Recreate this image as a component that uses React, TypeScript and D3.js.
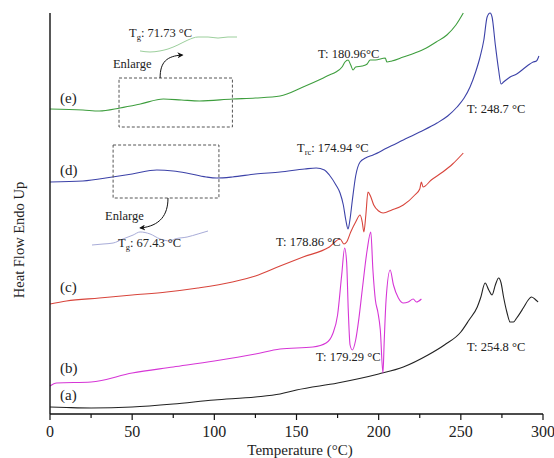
import React from "react";
import * as d3 from "d3";

// temperature (°C) and heat flow (a.u.)
const tA = [0, 10, 25, 50, 75, 100, 125, 140, 150, 175, 200, 215, 230, 240, 250, 255, 260, 262, 264.8, 267, 269, 271, 273, 274.5, 276, 278, 280, 282, 284, 288, 291, 293, 295, 297];
const vA = [0.7, 0.65, 0.6, 0.7, 1.0, 1.4, 1.7, 2.0, 2.4, 3.1, 4.0, 4.7, 5.9, 6.9, 8.2, 9.4, 10.7, 11.6, 13.1, 12.4, 11.9, 12.9, 13.6, 13.1, 11.7, 10.2, 9.2, 9.2, 9.6, 10.6, 11.4, 11.7, 11.5, 11.2];

const tB = [0, 4, 25, 50, 75, 100, 125, 140, 160, 168, 172, 175, 177.5, 179.3, 180.5, 181.5, 182.6, 184, 186, 188, 190, 193, 195.2, 196.5, 198, 199.5, 201, 202.6, 203.4, 204.5, 207, 209, 212, 215, 218, 221, 223, 226];
const vB = [2.8, 3.1, 3.2, 4.1, 4.7, 5.3, 6.0, 6.5, 6.7, 7.1, 8.0, 9.9, 13.9, 16.6, 15.2, 10.4, 6.9, 6.4, 7.4, 9.6, 12.4, 16.4, 18.2, 14.4, 11.4, 10.2, 8.4, 4.1, 7.4, 11.4, 14.4, 12.9, 11.6, 11.1, 11.2, 11.5, 11.2, 11.5];

const tC = [0, 10, 30, 50, 71, 90, 111, 125, 140, 154, 170, 176.5, 178.9, 180.5, 183, 186, 188.7, 190, 191, 192.2, 193.5, 195, 197, 200, 202.7, 208, 215, 222, 225, 226, 227, 232, 239, 245, 251.5];
const vC = [11.0, 11.3, 11.6, 11.9, 12.2, 12.6, 13.2, 13.8, 14.8, 15.7, 16.7, 17.5, 17.0, 17.2, 18.2, 19.2, 19.9, 19.2, 18.2, 19.9, 22.2, 21.8, 20.9, 20.3, 20.1, 20.4, 20.9, 21.9, 22.5, 23.2, 22.7, 23.4, 24.2, 25.0, 26.1];

const tD = [0, 20, 38, 50, 65, 75, 83, 95, 101.5, 111, 125, 140, 155, 162, 167, 170, 174, 176.5, 178.5, 180, 181.4, 182.5, 184, 186, 188.7, 192, 196.6, 205, 215, 225, 235.5, 242, 247.7, 252, 255.6, 259, 261.7, 264, 266, 267.8, 269, 271, 273, 274.5, 276, 280, 284, 288, 292, 294, 296, 297.5];
const vD = [23.2, 23.3, 23.7, 24.0, 24.4, 24.3, 24.1, 23.7, 23.6, 23.7, 24.0, 24.2, 24.5, 24.6, 24.4, 23.9, 22.9, 22.1, 20.9, 19.4, 18.5, 19.4, 21.4, 23.8, 25.2, 25.6, 25.9, 26.6, 27.4, 28.2, 29.1, 29.8, 30.7, 31.6, 32.7, 34.2, 35.7, 37.4, 39.7, 40.1, 39.7, 36.9, 34.4, 33.0, 33.2, 33.7, 34.0, 34.5, 35.0, 35.2, 35.3, 35.8];

const tE = [0, 20, 30, 42.6, 55, 69, 80, 91, 111, 125, 140, 154, 165, 170, 174, 177.7, 179.5, 181.4, 183, 184.4, 186, 190, 193, 194.8, 198, 204, 205, 208, 215, 222, 229, 235, 241.5, 247, 251.5];
const vE = [30.5, 30.4, 30.3, 30.6, 31.0, 31.5, 31.4, 31.3, 31.5, 31.6, 31.8, 32.7, 33.5, 33.9, 34.2, 34.7, 35.2, 35.4, 34.9, 34.4, 34.7, 34.8, 35.0, 35.4, 35.4, 35.6, 35.2, 35.3, 35.7, 36.1, 36.6, 37.2, 37.9, 38.9, 40.1];

// enlarged glass-transition regions (relative units)
const insetET = [42, 49.1, 56.2, 61.9, 69, 76.1, 83.3, 90.4, 97.5, 104.6, 111];
const insetEV = [0.07, 0, 0.07, 0.2, 0.47, 0.8, 1.0, 1.0, 0.93, 1.0, 1.0];
const insetDT = [38.4, 44.5, 50.1, 55.6, 61.2, 65.1, 70.6, 76.2, 81.7, 84.5, 91.2, 97.3, 102.8];
const insetDV = [0, 0.07, 0.14, 0.43, 0.71, 0.93, 0.79, 0.43, 0.29, 0.43, 0.57, 0.79, 1.0];

const xTicks = [0, 50, 100, 150, 200, 250, 300];
const xMinor = [25, 75, 125, 175, 225, 275];

const seriesLabels = ["(a)", "(b)", "(c)", "(d)", "(e)"];
const seriesLabelV = [1.4, 4.1, 12.2, 23.9, 31.1];

const notes = [
  { t: 163.1, v: 35.6, main: "T: 180.96°C", sub: "" },
  { t: 253.8, v: 30.1, main: "T: 248.7 °C", sub: "" },
  { t: 150.3, v: 26.2, main: ": 174.94 °C", sub: "rc" },
  { t: 137.6, v: 16.8, main: "T: 178.86 °C", sub: "" },
  { t: 161.9, v: 5.3, main: "T: 179.29 °C", sub: "" },
  { t: 253.8, v: 6.3, main: "T: 254.8 °C", sub: "" },
  { t: 48.1, v: 37.7, main: ": 71.73 °C", sub: "g" },
  { t: 41.4, v: 16.7, main: ": 67.43 °C", sub: "g" },
];

const W = 554;
const H = 458;
const FONT = "'Liberation Serif', 'DejaVu Serif', serif";

export default function App() {
  const x = d3.scaleLinear().domain([0, 300]).range([50, 543]);
  const y = d3.scaleLinear().domain([0, 40.1]).range([414, 13]);

  const line = (ts: number[], vs: number[], sx = x, sy = y) =>
    d3
      .line<number>()
      .x((d, i) => sx(ts[i]))
      .y((d) => sy(d))
      .curve(d3.curveMonotoneX)(vs) || "";

  const series = [
    { t: tA, v: vA, c: "#222222" },
    { t: tB, v: vB, c: "#d636d6" },
    { t: tC, v: vC, c: "#d8453c" },
    { t: tD, v: vD, c: "#3c42a8" },
    { t: tE, v: vE, c: "#3e9e3e" },
  ];

  // inset scales
  const ixE = d3.scaleLinear().domain([42, 111]).range([140, 237]);
  const iyE = d3.scaleLinear().domain([0, 1]).range([52, 37]);
  const ixD = d3.scaleLinear().domain([38.4, 102.8]).range([92, 208]);
  const iyD = d3.scaleLinear().domain([0, 1]).range([245, 231]);

  const boxE = { t0: 42, t1: 111, v0: 28.7, v1: 33.6 };
  const boxD = { t0: 38.4, t1: 102.8, v0: 21.6, v1: 26.9 };

  return (
    <svg width={W} height={H} style={{ position: "absolute", left: 0, top: 0, background: "#fff" }} fontFamily={FONT}>
      <defs>
        <marker id="ah" viewBox="0 0 10 10" refX="8" refY="5" markerWidth="7" markerHeight="6" orient="auto">
          <path d="M0,0 L10,5 L0,10 L3,5 Z" fill="#111" />
        </marker>
      </defs>

      {series.map((s, i) => (
        <path key={i} d={line(s.t, s.v)} fill="none" stroke={s.c} strokeWidth={1.1} />
      ))}

      <path d={line(insetET, insetEV, ixE, iyE)} fill="none" stroke="#9ccf9c" strokeWidth={1} />
      <path d={line(insetDT, insetDV, ixD, iyD)} fill="none" stroke="#a8acd8" strokeWidth={1} />

      {[boxE, boxD].map((b, i) => (
        <rect
          key={i}
          x={x(b.t0)}
          y={y(b.v1)}
          width={x(b.t1) - x(b.t0)}
          height={y(b.v0) - y(b.v1)}
          fill="none"
          stroke="#555"
          strokeWidth={1}
          strokeDasharray="3,2"
        />
      ))}

      <path
        d={`M${x(67)},${y(boxE.v1)} C${x(67)},62 ${x(71)},56 ${x(80.5)},55`}
        fill="none"
        stroke="#111"
        strokeWidth={1}
        markerEnd="url(#ah)"
      />
      <path
        d={`M${x(71.8)},${y(boxD.v0)} C${x(71.8)},215 ${x(67)},226 ${x(55)},228`}
        fill="none"
        stroke="#111"
        strokeWidth={1}
        markerEnd="url(#ah)"
      />
      <text x={x(38.3)} y={y(34.6)} fontSize={12.5} fill="#222">Enlarge</text>
      <text x={x(33.5)} y={y(19.4)} fontSize={12.5} fill="#222">Enlarge</text>

      {notes.map((n, i) => (
        <text key={i} x={x(n.t)} y={y(n.v)} fontSize={12.5} fill="#222">
          {n.sub ? (
            <>
              T
              <tspan fontSize={8.5} dy={3}>{n.sub}</tspan>
              <tspan dy={-3}>{n.main}</tspan>
            </>
          ) : (
            n.main
          )}
        </text>
      ))}

      {seriesLabels.map((l, i) => (
        <text key={l} x={x(6.1)} y={y(seriesLabelV[i])} fontSize={15} fill="#222">
          {l}
        </text>
      ))}

      {/* axes */}
      <line x1={x(0)} x2={x(0)} y1={13} y2={y(0)} stroke="#111" strokeWidth={1.4} />
      <line x1={x(0)} x2={x(300)} y1={y(0)} y2={y(0)} stroke="#111" strokeWidth={1.4} />
      {xTicks.map((t) => (
        <g key={t}>
          <line x1={x(t)} x2={x(t)} y1={y(0)} y2={y(0) + 6} stroke="#111" strokeWidth={1.2} />
          <text x={x(t)} y={437} fontSize={16} textAnchor="middle" fill="#222">
            {t}
          </text>
        </g>
      ))}
      {xMinor.map((t) => (
        <line key={t} x1={x(t)} x2={x(t)} y1={y(0)} y2={y(0) + 4} stroke="#111" strokeWidth={1.2} />
      ))}
      <text x={300} y={455} fontSize={15} textAnchor="middle" fill="#222">
        Temperature (°C)
      </text>
      <text transform="translate(24,240) rotate(-90)" fontSize={14.5} textAnchor="middle" fill="#222">
        Heat Flow Endo Up
      </text>
    </svg>
  );
}
